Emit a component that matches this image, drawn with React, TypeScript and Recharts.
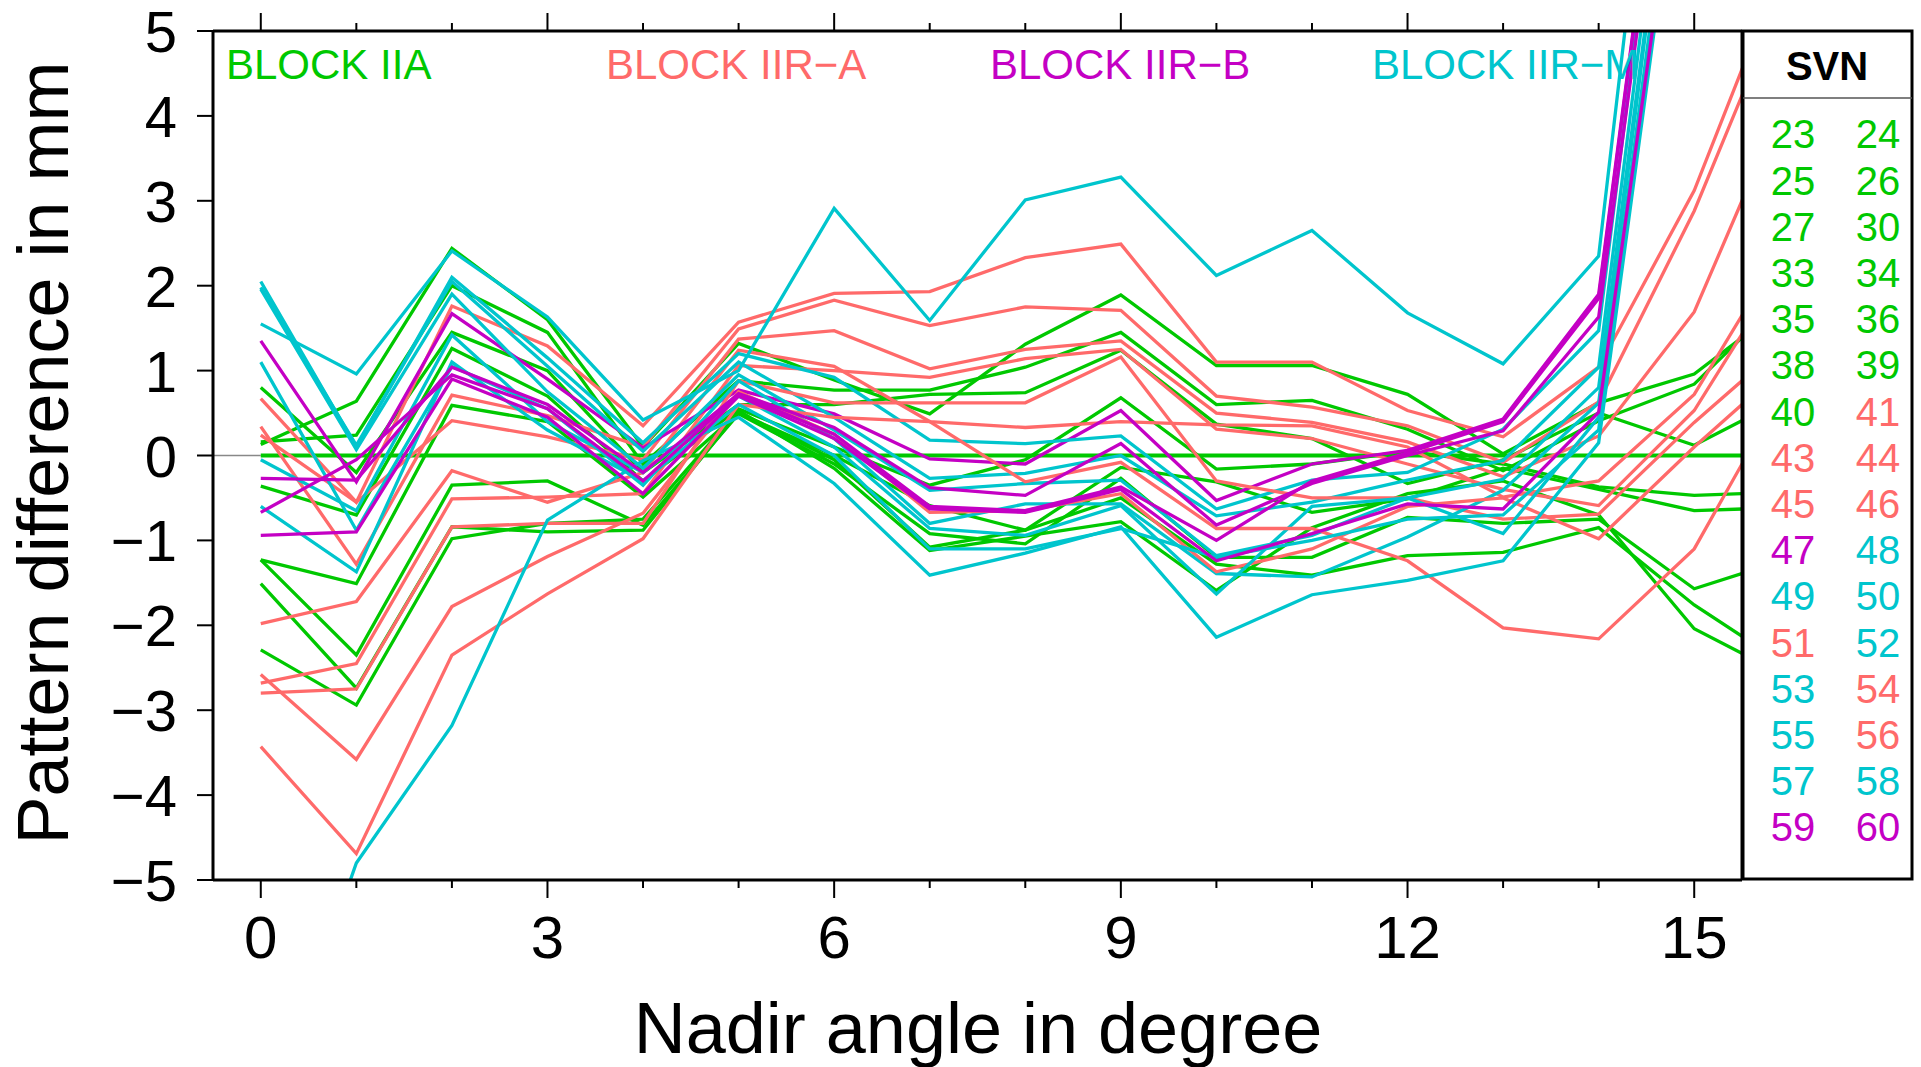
import React from 'react';
import { LineChart, Line, XAxis, YAxis, ReferenceLine } from 'recharts';

const FONT = '"Liberation Sans", Arial, Helvetica, sans-serif';

// Nadir angles (degree) at which the pattern differences are sampled
const nadirAngles = [0, 1, 2, 3, 4, 5, 6, 7, 8, 9, 10, 11, 12, 13, 14, 15, 16];

// Axis ticks
const xTicks = [0, 1, 2, 3, 4, 5, 6, 7, 8, 9, 10, 11, 12, 13, 14, 15];
const yTicks = [-5, -4, -3, -2, -1, 0, 1, 2, 3, 4, 5];

// Reference (zero) pattern
const ref = [0, 0, 0, 0, 0, 0, 0, 0, 0, 0, 0, 0, 0, 0, 0, 0, 0];

// Block IIA
const sv24 = [0.13, 0.64, 2.44, 1.6, 0.1, 1.32, 0.89, 0.49, 1.31, 1.89, 1.06, 1.06, 0.72, 0.02, 0.62, 0.96, 1.82];
const sv25 = [0.16, 0.24, 2.0, 1.45, -0.1, 0.88, 0.77, 0.77, 1.04, 1.45, 0.6, 0.65, 0.31, -0.18, 0.41, 0.84, 1.94];
const sv26 = [0.8, -0.2, 1.45, 1.0, -0.2, 0.6, 0.6, 0.72, 0.74, 1.24, 0.37, 0.2, -0.33, -0.05, 0.5, 0.12, 0.7];
const sv27 = [-0.36, -0.7, 1.26, 0.7, -0.3, 0.55, 0.1, -0.35, -0.05, 0.68, -0.16, -0.1, 0.05, -0.1, -0.37, -0.47, -0.43];
const sv30 = [-1.23, -1.51, 0.59, 0.4, -0.49, 0.5, 0.0, -0.59, -0.88, -0.14, -0.31, -0.67, -0.51, -0.15, -0.4, -0.65, -0.61];
const sv33 = [-1.23, -2.35, -0.35, -0.3, -0.82, 0.49, -0.1, -0.92, -1.04, -0.27, -1.2, -1.2, -0.73, -0.8, -0.75, -1.57, -1.21];
const sv34 = [-1.51, -2.74, -0.84, -0.9, -0.88, 0.51, -0.05, -1.08, -0.88, -0.5, -1.28, -1.41, -1.18, -1.14, -0.85, -1.76, -2.5];
const sv35 = [-2.29, -2.94, -0.98, -0.8, -0.75, 0.53, -0.15, -1.12, -0.95, -0.78, -1.59, -0.85, -0.45, -0.3, -0.7, -2.04, -2.62];

// Block IIR-A
const sv41 = [0.67, -0.55, 1.76, 1.29, 0.35, 1.57, 1.91, 1.93, 2.33, 2.49, 1.1, 1.1, 0.53, 0.22, 1.04, 3.12, 5.98];
const sv43 = [0.34, -1.28, 0.71, 0.47, 0.1, 1.49, 1.83, 1.53, 1.75, 1.71, 0.7, 0.57, 0.35, -0.08, 0.63, 2.88, 5.6];
const sv44 = [0.24, -0.55, 0.41, 0.22, -0.05, 1.37, 1.47, 1.02, 1.25, 1.35, 0.5, 0.39, 0.16, -0.25, 0.23, 1.69, 4.31];
const sv45 = [-1.98, -1.72, -0.18, -0.55, -0.2, 1.24, 1.05, 0.4, 0.33, 0.4, 0.36, 0.35, 0.1, -0.49, -0.3, 0.72, 2.58];
const sv46 = [-2.68, -2.45, -0.51, -0.49, -0.45, 1.06, 1.0, 0.92, 1.14, 1.25, 0.31, 0.2, -0.1, -0.4, -0.59, 0.53, 2.33];
const sv51 = [-2.8, -2.75, -0.84, -0.8, -0.8, 0.88, 0.62, 0.62, 0.62, 1.16, -0.3, -0.5, -0.5, -0.75, -0.69, 0.39, 1.37];
const sv54 = [-2.58, -3.58, -1.78, -1.19, -0.68, 0.75, 0.25, -0.67, -0.65, -0.45, -1.37, -1.1, -0.6, -0.5, -0.98, 0.1, 1.1];
const sv56 = [-3.43, -4.69, -2.35, -1.63, -0.98, 0.6, 0.45, 0.4, -0.31, -0.08, -0.86, -0.86, -1.24, -2.03, -2.16, -1.1, 0.9];

// Block IIR-B
const sv47 = [1.35, -0.31, 1.67, 0.9, 0.09, 0.77, 0.49, -0.04, -0.1, 0.53, -0.53, -0.1, 0.06, 0.43, 1.9, 10.5, 19];
const sv59 = [-0.27, -0.29, 1.04, 0.6, -0.2, 0.73, 0.33, -0.38, -0.47, 0.14, -0.82, -0.33, 0.0, 0.29, 1.63, 10, 19];
const sv60 = [-0.67, -0.05, 0.95, 0.55, -0.3, 0.72, 0.25, -0.6, -0.65, -0.37, -1.0, -0.3, 0.03, 0.4, 1.85, 10.5, 19];
const sv61 = [-0.94, -0.9, 0.9, 0.45, -0.45, 0.7, 0.2, -0.63, -0.67, -0.4, -1.24, -0.92, -0.57, -0.63, 0.51, 8.5, 17];

// Block IIR-M
const sv48 = [1.55, 0.96, 2.41, 1.63, 0.42, 1.0, 2.91, 1.59, 3.01, 3.28, 2.12, 2.65, 1.68, 1.08, 2.35, 12, 22];
const sv49 = [2.05, 0.1, 2.1, 1.15, 0.15, 1.2, 0.92, 0.18, 0.14, 0.23, -0.63, -0.29, -0.2, 0.31, 1.47, 10.5, 19];
const sv50 = [1.98, 0.12, 2.05, 1.05, 0.05, 1.1, 0.45, -0.27, -0.21, 0.0, -0.71, -0.55, -0.29, -0.06, 1.04, 10, 19];
const sv52 = [1.96, 0.07, 1.9, 0.75, -0.15, 0.95, 0.3, -0.41, -0.33, -0.29, -1.18, -0.94, -0.5, -0.28, 0.8, 9.5, 18];
const sv53 = [1.1, -0.88, 1.05, 0.55, -0.35, 0.88, 0.2, -0.8, -0.57, -0.57, -1.39, -1.43, -0.96, -0.41, 0.62, 9.5, 18];
const sv55 = [-0.05, -0.65, 1.42, 0.4, -0.2, 0.7, 0.1, -0.86, -0.94, -0.59, -1.63, -0.6, -0.5, -0.92, 0.45, 9, 17];
const sv57 = [-0.6, -1.37, 1.1, 0.3, -0.3, 0.6, 0.0, -1.1, -1.1, -0.86, -1.2, -1.0, -0.75, -0.7, 0.3, 9, 17];
const sv58 = [-8.0, -4.8, -3.18, -0.76, -0.06, 0.45, -0.33, -1.41, -1.15, -0.84, -2.14, -1.64, -1.47, -1.24, 0.15, 8.5, 17];

// Legend rows (SVN pairs)
const svnRows = [
  [23, 24], [25, 26], [27, 30], [33, 34], [35, 36], [38, 39], [40, 41], [43, 44],
  [45, 46], [47, 48], [49, 50], [51, 52], [53, 54], [55, 56], [57, 58], [59, 60],
];

// Block membership
const blockIIA = [23, 24, 25, 26, 27, 30, 33, 34, 35, 36, 38, 39, 40];
const blockIIRA = [41, 43, 44, 45, 46, 51, 54, 56];
const blockIIRB = [47, 59, 60, 61];
const blockIIRM = [48, 49, 50, 52, 53, 55, 57, 58];

const GREEN = '#00C800';
const RED = '#FF6A6A';
const MAGENTA = '#C400C4';
const CYAN = '#00C5CD';

const blockColor = (svn: number) => {
  if (blockIIA.includes(svn)) return GREEN;
  if (blockIIRA.includes(svn)) return RED;
  if (blockIIRB.includes(svn)) return MAGENTA;
  if (blockIIRM.includes(svn)) return CYAN;
  return '#000';
};

// Series drawn in SVN order
const series: { svn: number; values: number[] }[] = [
  { svn: 24, values: sv24 }, { svn: 25, values: sv25 }, { svn: 26, values: sv26 },
  { svn: 27, values: sv27 }, { svn: 30, values: sv30 }, { svn: 33, values: sv33 },
  { svn: 34, values: sv34 }, { svn: 35, values: sv35 },
  { svn: 41, values: sv41 }, { svn: 43, values: sv43 }, { svn: 44, values: sv44 },
  { svn: 45, values: sv45 }, { svn: 46, values: sv46 }, { svn: 47, values: sv47 },
  { svn: 48, values: sv48 }, { svn: 49, values: sv49 }, { svn: 50, values: sv50 },
  { svn: 51, values: sv51 }, { svn: 52, values: sv52 }, { svn: 53, values: sv53 },
  { svn: 54, values: sv54 }, { svn: 55, values: sv55 }, { svn: 56, values: sv56 },
  { svn: 57, values: sv57 }, { svn: 58, values: sv58 }, { svn: 59, values: sv59 },
  { svn: 60, values: sv60 }, { svn: 61, values: sv61 },
];

const data = nadirAngles.map((angle, i) => {
  const row: Record<string, number> = { angle, ref: ref[i] };
  series.forEach((s) => {
    row['sv' + s.svn] = s.values[i];
  });
  return row;
});

const minus = (v: number) => (v < 0 ? '\u2212' + Math.abs(v) : String(v));

const BottomTick = (props: any) => {
  const { x, y, payload } = props;
  const major = payload.value % 3 === 0;
  return (
    <g>
      <line x1={x} x2={x} y1={y} y2={y + (major ? 18 : 8)} stroke="#000" strokeWidth={2} />
      {major && (
        <text x={x} y={y + 78} textAnchor="middle" fontSize={60} fontFamily={FONT} fill="#000">
          {payload.value}
        </text>
      )}
    </g>
  );
};

const TopTick = (props: any) => {
  const { x, y, payload } = props;
  const major = payload.value % 3 === 0;
  return <line x1={x} x2={x} y1={y} y2={y - (major ? 18 : 8)} stroke="#000" strokeWidth={2} />;
};

const LeftTick = (props: any) => {
  const { x, y, payload } = props;
  return (
    <g>
      <line x1={x - 16} x2={x} y1={y} y2={y} stroke="#000" strokeWidth={2} />
      <text x={x - 36} y={y + 21} textAnchor="end" fontSize={58} fontFamily={FONT} fill="#000">
        {minus(payload.value)}
      </text>
    </g>
  );
};

const blockLabels = [
  { text: 'BLOCK IIA', x: 226, color: GREEN },
  { text: 'BLOCK IIR\u2212A', x: 606, color: RED },
  { text: 'BLOCK IIR\u2212B', x: 990, color: MAGENTA },
  { text: 'BLOCK IIR\u2212M', x: 1372, color: CYAN },
];

export default function App() {
  return (
    <div style={{ position: 'absolute', left: 0, top: 0, width: 1921, height: 1067, background: '#fff' }}>
      <LineChart
        width={1921}
        height={1067}
        data={data}
        margin={{ top: 21, right: 169, bottom: 127, left: 153 }}
      >
        <XAxis
          dataKey="angle"
          type="number"
          domain={[-0.5, 15.5]}
          ticks={xTicks}
          interval={0}
          allowDataOverflow
          height={60}
          tickSize={0}
          tickMargin={0}
          tickLine={false}
          axisLine={{ stroke: '#000', strokeWidth: 3 }}
          tick={<BottomTick />}
        />
        <XAxis
          xAxisId="top"
          orientation="top"
          dataKey="angle"
          type="number"
          domain={[-0.5, 15.5]}
          ticks={xTicks}
          interval={0}
          allowDataOverflow
          height={10}
          tickSize={0}
          tickMargin={0}
          tickLine={false}
          axisLine={{ stroke: '#000', strokeWidth: 3 }}
          tick={<TopTick />}
        />
        <YAxis
          type="number"
          domain={[-5, 5]}
          ticks={yTicks}
          interval={0}
          allowDataOverflow
          width={60}
          tickSize={0}
          tickMargin={0}
          tickLine={false}
          axisLine={{ stroke: '#000', strokeWidth: 3 }}
          tick={<LeftTick />}
        />
        <YAxis
          yAxisId="right"
          orientation="right"
          type="number"
          domain={[-5, 5]}
          allowDataOverflow
          width={10}
          tick={false}
          tickLine={false}
          axisLine={{ stroke: '#000', strokeWidth: 3 }}
        />
        <ReferenceLine
          segment={[{ x: -0.5, y: 0 }, { x: 0, y: 0 }]}
          stroke="#888"
          strokeWidth={1.5}
        />
        <Line
          dataKey="ref"
          type="linear"
          stroke={GREEN}
          strokeWidth={4}
          dot={false}
          isAnimationActive={false}
        />
        {series.map((s) => (
          <Line
            key={s.svn}
            dataKey={'sv' + s.svn}
            type="linear"
            stroke={blockColor(s.svn)}
            strokeWidth={3.3}
            dot={false}
            isAnimationActive={false}
          />
        ))}
      </LineChart>
      <svg
        width={1921}
        height={1067}
        style={{ position: 'absolute', left: 0, top: 0, pointerEvents: 'none' }}
      >
        {blockLabels.map((b) => (
          <text key={b.text} x={b.x} y={79} fontSize={42} fontFamily={FONT} fill={b.color}>
            {b.text}
          </text>
        ))}
        <text
          transform="translate(68,453) rotate(-90)"
          textAnchor="middle"
          fontSize={72}
          fontFamily={FONT}
          fill="#000"
        >
          Pattern difference in mm
        </text>
        <text x={978} y={1053} textAnchor="middle" fontSize={72} fontFamily={FONT} fill="#000">
          Nadir angle in degree
        </text>
        <rect x={1743} y={31} width={169} height={848} fill="#fff" stroke="#000" strokeWidth={3} />
        <text x={1827} y={80} textAnchor="middle" fontSize={40} fontWeight="bold" fontFamily={FONT} fill="#000">
          SVN
        </text>
        <line x1={1743} x2={1912} y1={98} y2={98} stroke="#555" strokeWidth={1.5} />
        {svnRows.map((row, i) => (
          <g key={i}>
            <text x={1793} y={148.3 + 46.2 * i} textAnchor="middle" fontSize={40} fontFamily={FONT} fill={blockColor(row[0])}>
              {row[0]}
            </text>
            <text x={1878} y={148.3 + 46.2 * i} textAnchor="middle" fontSize={40} fontFamily={FONT} fill={blockColor(row[1])}>
              {row[1]}
            </text>
          </g>
        ))}
      </svg>
    </div>
  );
}
